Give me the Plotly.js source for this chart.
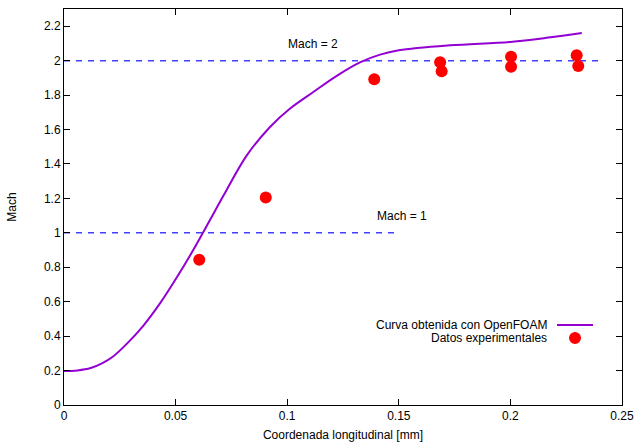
<!DOCTYPE html>
<html>
<head>
<meta charset="utf-8">
<script src="https://cdn.plot.ly/plotly-3.0.1.min.js"></script>
<style>html,body{margin:0;padding:0;background:#fff;}#chart{width:636px;height:446px;}</style>
</head>
<body>
<div id="chart"></div>
<script>
// OpenFOAM curve
const curveX = [0, 0.006, 0.012, 0.017, 0.022, 0.0281, 0.0355, 0.043, 0.0505, 0.0579, 0.0654, 0.0714, 0.0819, 0.0923, 0.1013, 0.1117, 0.1222, 0.1326, 0.1416, 0.150, 0.173, 0.200, 0.217, 0.232];
const curveY = [0.197, 0.201, 0.215, 0.242, 0.282, 0.355, 0.46, 0.59, 0.74, 0.90, 1.074, 1.215, 1.45, 1.615, 1.722, 1.818, 1.912, 1.99, 2.035, 2.06, 2.089, 2.109, 2.134, 2.161];
// Experimental data
const expX = [0.0606, 0.0904, 0.139, 0.1685, 0.1692, 0.2003, 0.2003, 0.2297, 0.2304];
const expY = [0.843, 1.205, 1.892, 1.991, 1.939, 2.022, 1.964, 2.031, 1.969];
// Reference lines
const mach2X = [0, 0.2406];
const mach2Y = [2, 2];
const mach1X = [0, 0.1495];
const mach1Y = [1, 1];
const xTicks = [0, 0.05, 0.1, 0.15, 0.2, 0.25];
const xTickText = ['0', '0.05', '0.1', '0.15', '0.2', '0.25'];
const yTicks = [0, 0.2, 0.4, 0.6, 0.8, 1, 1.2, 1.4, 1.6, 1.8, 2, 2.2];
const yTickText = ['0', '0.2', '0.4', '0.6', '0.8', '1', '1.2', '1.4', '1.6', '1.8', '2', '2.2'];
const legendNames = ['Curva obtenida con OpenFOAM', 'Datos experimentales'];

const font = {family: 'Liberation Sans, Arial, sans-serif', size: 12, color: '#000'};
const dashColor = '#4040ff';
const curveColor = '#9400d3';
const markerColor = '#ff0000';

const traces = [
  {x: mach2X, y: mach2Y, mode: 'lines', line: {color: dashColor, width: 1.5, dash: '6px,6px'}, showlegend: false, hoverinfo: 'skip'},
  {x: mach1X, y: mach1Y, mode: 'lines', line: {color: dashColor, width: 1.5, dash: '6px,6px'}, showlegend: false, hoverinfo: 'skip'},
  {x: curveX, y: curveY, mode: 'lines', line: {color: curveColor, width: 2, shape: 'spline', smoothing: 1}, name: legendNames[0], showlegend: false},
  {x: expX, y: expY, mode: 'markers', marker: {color: markerColor, size: 12}, name: legendNames[1], showlegend: false}
];

const axisCommon = {
  showgrid: false, zeroline: false, showline: true, linecolor: '#000', linewidth: 1,
  mirror: 'ticks', ticks: 'inside', ticklen: 6, tickcolor: '#000', tickfont: font
};

const layout = {
  width: 636, height: 446,
  margin: {l: 64, r: 14, t: 9, b: 41},
  paper_bgcolor: '#fff', plot_bgcolor: '#fff',
  font: font,
  showlegend: false,
  xaxis: Object.assign({}, axisCommon, {
    range: [0, 0.25], tickvals: xTicks, ticktext: xTickText,
    title: {text: 'Coordenada longitudinal [mm]', font: font, standoff: 8}
  }),
  yaxis: Object.assign({}, axisCommon, {
    range: [0, 2.3], tickvals: yTicks, ticktext: yTickText,
    title: {text: 'Mach', font: font, standoff: 24}
  }),
  annotations: [
    {x: 0.1116, y: 2.095, xref: 'x', yref: 'y', text: 'Mach = 2', showarrow: false, font: font},
    {x: 0.1514, y: 1.097, xref: 'x', yref: 'y', text: 'Mach = 1', showarrow: false, font: font},
    {x: 0.869, y: 0.202, xref: 'paper', yref: 'paper', xanchor: 'right', yanchor: 'middle', text: legendNames[0], showarrow: false, font: font},
    {x: 0.869, y: 0.169, xref: 'paper', yref: 'paper', xanchor: 'right', yanchor: 'middle', text: legendNames[1], showarrow: false, font: font}
  ],
  shapes: [
    {type: 'line', xref: 'paper', yref: 'paper', x0: 0.8835, x1: 0.948, y0: 0.202, y1: 0.202, line: {color: curveColor, width: 2}},
    {type: 'circle', xref: 'paper', yref: 'paper', x0: 0.9158 - 0.01075, x1: 0.9158 + 0.01075, y0: 0.169 - 0.01515, y1: 0.169 + 0.01515, fillcolor: markerColor, line: {color: markerColor, width: 0}}
  ]
};

Plotly.newPlot('chart', traces, layout, {displayModeBar: false, staticPlot: true});
</script>
</body>
</html>
